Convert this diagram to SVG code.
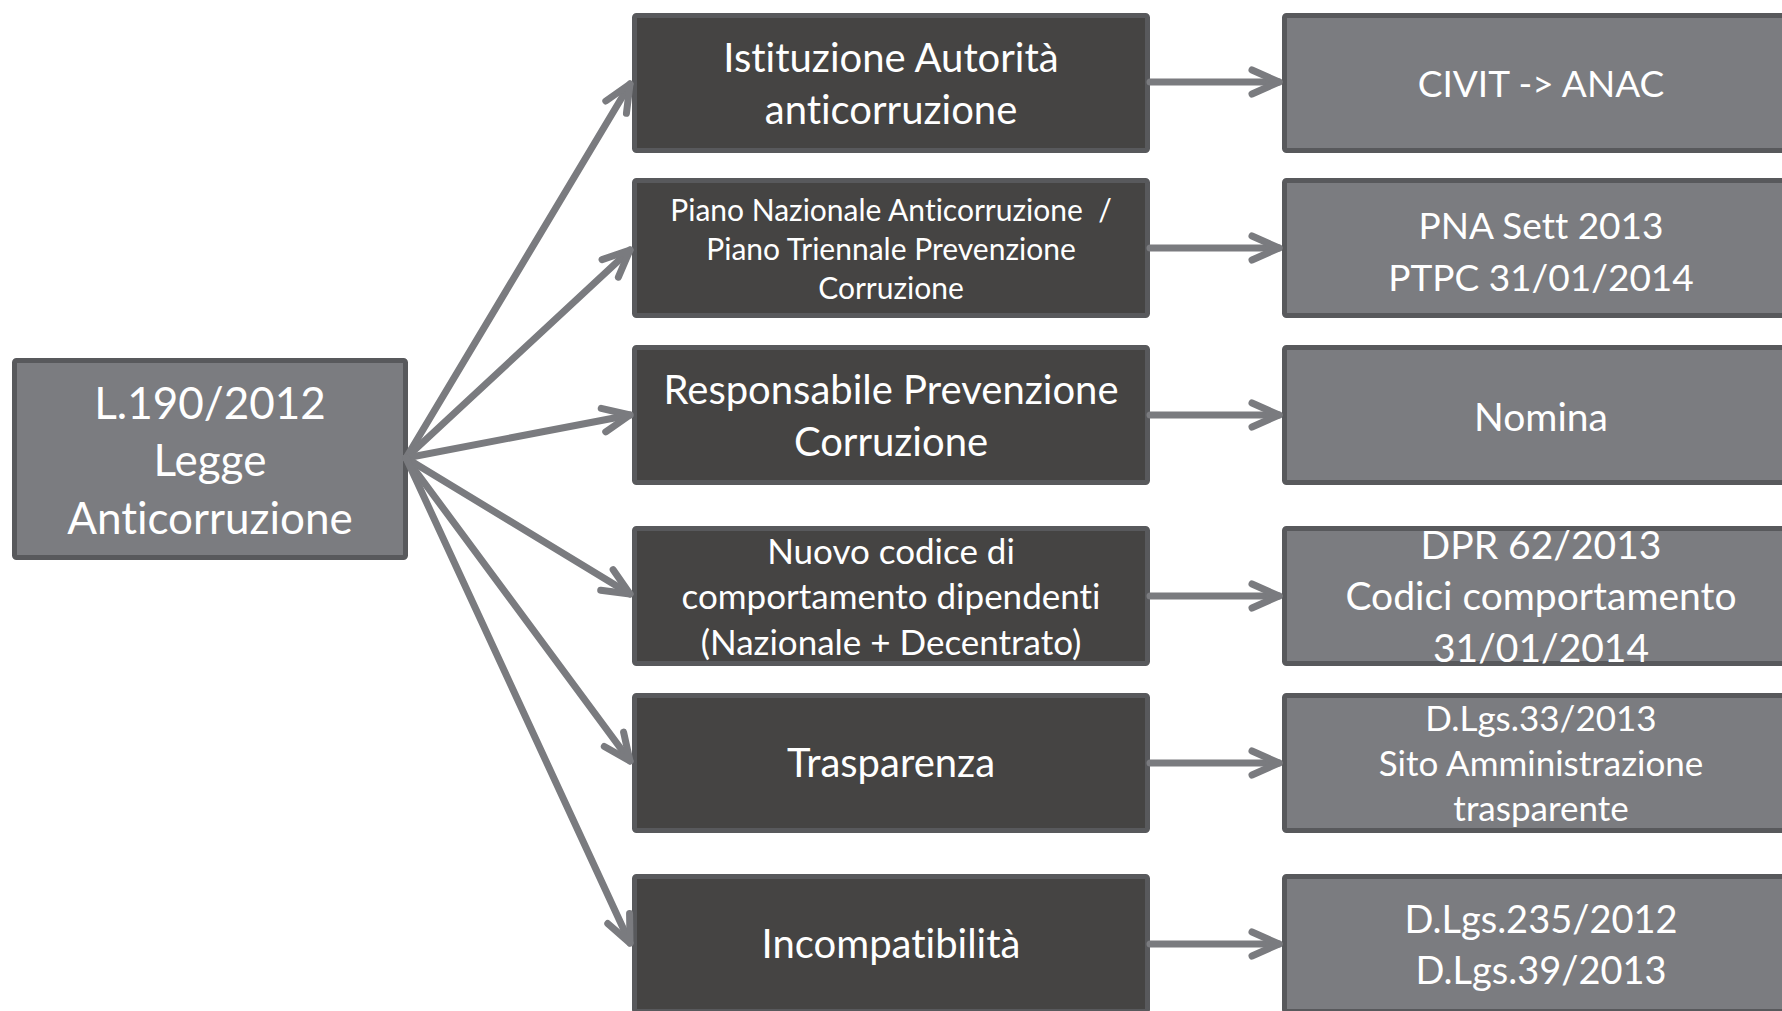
<svg xmlns="http://www.w3.org/2000/svg" width="1782" height="1011" viewBox="0 0 1782 1011">
<defs>
<style>
.box rect{stroke:#58595c;stroke-width:5}
.dark rect{fill:#454443}
.light rect{fill:#7b7c80}
text{font-family:Lato,"Liberation Sans",sans-serif;fill:#ffffff;text-anchor:middle;font-variant-ligatures:none}
.conn line{stroke:#7a7b7f;stroke-width:7;stroke-linecap:round;marker-end:url(#ah)}
</style>
<marker id="ah" markerUnits="userSpaceOnUse" viewBox="-40 -20 50 40" markerWidth="50" markerHeight="40" refX="0" refY="0" orient="auto" overflow="visible">
<path d="M-27,-12 L0,0 L-27,12" fill="none" stroke="#7a7b7f" stroke-width="7" stroke-linecap="round" stroke-linejoin="round"/>
</marker>
</defs>
<rect width="1782" height="1011" fill="#ffffff"/>

<g id="n-legge" class="box light">
<rect x="14.5" y="360.5" width="391" height="197" rx="2"/>
<text font-size="44"><tspan x="210" y="419">L.190/2012</tspan><tspan x="210" y="476">Legge</tspan><tspan x="210" y="534">Anticorruzione</tspan></text>
</g>

<g id="n-istituzione" class="box dark">
<rect x="634.5" y="15.5" width="513" height="135" rx="2"/>
<text font-size="40"><tspan x="891" y="72">Istituzione Autorità</tspan><tspan x="891" y="124">anticorruzione</tspan></text>
</g>
<g id="n-piano" class="box dark">
<rect x="634.5" y="180.5" width="513" height="135" rx="2"/>
<text font-size="30"><tspan x="891" y="221">Piano Nazionale Anticorruzione &#160;/</tspan><tspan x="891" y="260">Piano Triennale Prevenzione</tspan><tspan x="891" y="299">Corruzione</tspan></text>
</g>
<g id="n-responsabile" class="box dark">
<rect x="634.5" y="347.5" width="513" height="135" rx="2"/>
<text font-size="40"><tspan x="891" y="404">Responsabile Prevenzione</tspan><tspan x="891" y="456">Corruzione</tspan></text>
</g>
<g id="n-codice" class="box dark">
<rect x="634.5" y="528.5" width="513" height="135" rx="2"/>
<text font-size="35"><tspan x="891" y="564">Nuovo codice di</tspan><tspan x="891" y="609">comportamento dipendenti</tspan><tspan x="891" y="655">(Nazionale + Decentrato)</tspan></text>
</g>
<g id="n-trasparenza" class="box dark">
<rect x="634.5" y="695.5" width="513" height="135" rx="2"/>
<text font-size="40" x="891" y="777">Trasparenza</text>
</g>
<g id="n-incompatibilita" class="box dark">
<rect x="634.5" y="876.5" width="513" height="135" rx="2"/>
<text font-size="40" x="891" y="958">Incompatibilità</text>
</g>

<g id="n-civit" class="box light">
<rect x="1284.5" y="15.5" width="513" height="135" rx="2"/>
<text font-size="37" x="1541" y="97">CIVIT -&gt; ANAC</text>
</g>
<g id="n-pna" class="box light">
<rect x="1284.5" y="180.5" width="513" height="135" rx="2"/>
<text font-size="37"><tspan x="1541" y="239">PNA Sett 2013</tspan><tspan x="1541" y="291">PTPC 31/01/2014</tspan></text>
</g>
<g id="n-nomina" class="box light">
<rect x="1284.5" y="347.5" width="513" height="135" rx="2"/>
<text font-size="39" x="1541" y="431">Nomina</text>
</g>
<g id="n-dpr" class="box light">
<rect x="1284.5" y="528.5" width="513" height="135" rx="2"/>
<text font-size="39"><tspan x="1541" y="559">DPR 62/2013</tspan><tspan x="1541" y="610">Codici comportamento</tspan><tspan x="1541" y="662">31/01/2014</tspan></text>
</g>
<g id="n-dlgs33" class="box light">
<rect x="1284.5" y="695.5" width="513" height="135" rx="2"/>
<text font-size="35"><tspan x="1541" y="731">D.Lgs.33/2013</tspan><tspan x="1541" y="776">Sito Amministrazione</tspan><tspan x="1541" y="821">trasparente</tspan></text>
</g>
<g id="n-dlgs235" class="box light">
<rect x="1284.5" y="876.5" width="513" height="135" rx="2"/>
<text font-size="38"><tspan x="1541" y="933">D.Lgs.235/2012</tspan><tspan x="1541" y="984">D.Lgs.39/2013</tspan></text>
</g>

<g id="connectors" class="conn">
<line x1="406" y1="458" x2="630" y2="84"/>
<line x1="406" y1="458" x2="630" y2="250"/>
<line x1="406" y1="458" x2="630" y2="415"/>
<line x1="406" y1="458" x2="630" y2="594"/>
<line x1="406" y1="458" x2="630" y2="761"/>
<line x1="406" y1="458" x2="630" y2="943"/>
<line x1="1150" y1="82" x2="1279" y2="82"/>
<line x1="1150" y1="248" x2="1279" y2="248"/>
<line x1="1150" y1="415" x2="1279" y2="415"/>
<line x1="1150" y1="596" x2="1279" y2="596"/>
<line x1="1150" y1="763" x2="1279" y2="763"/>
<line x1="1150" y1="944" x2="1279" y2="944"/>
</g>
</svg>
